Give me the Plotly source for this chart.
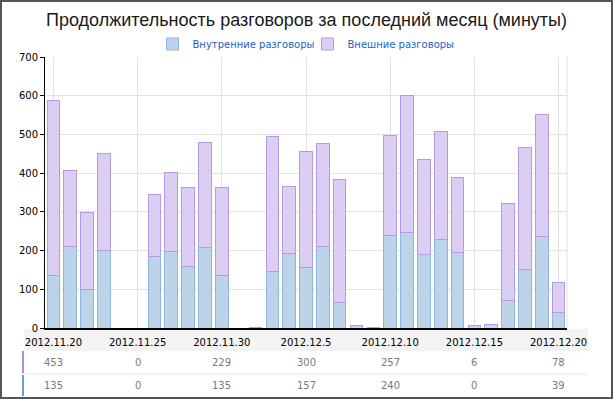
import plotly.graph_objects as go

# ---- data ----
dates = ["2012.11.20", "2012.11.21", "2012.11.22", "2012.11.23", "2012.11.24",
         "2012.11.25", "2012.11.26", "2012.11.27", "2012.11.28", "2012.11.29",
         "2012.11.30", "2012.12.1", "2012.12.2", "2012.12.3", "2012.12.4",
         "2012.12.5", "2012.12.6", "2012.12.7", "2012.12.8", "2012.12.9",
         "2012.12.10", "2012.12.11", "2012.12.12", "2012.12.13", "2012.12.14",
         "2012.12.15", "2012.12.16", "2012.12.17", "2012.12.18", "2012.12.19",
         "2012.12.20"]
internal = [135, 210, 100, 200, 0, 0, 184, 198, 158, 207, 135, 0, 0, 146, 193,
            157, 210, 66, 0, 0, 240, 247, 190, 229, 195, 0, 0, 71, 151, 237, 39]
external = [453, 197, 199, 251, 0, 0, 161, 204, 205, 272, 229, 0, 2, 349, 173,
            300, 267, 318, 7, 2, 257, 354, 245, 279, 194, 6, 9, 251, 315, 315, 78]
name_internal = "Внутренние разговоры"
name_external = "Внешние разговоры"
title_text = "Продолжительность разговоров за последний месяц (минуты)"
y_ticks = [0, 100, 200, 300, 400, 500, 600, 700]
label_idx = list(range(0, len(dates), 5))

FONT = "DejaVu Sans"
W, H = 613, 399
L, R, T, B = 45, 567, 57, 328  # plot area in pixels
pw, ph = R - L, B - T


def px_x(p):
    return (p - L) / pw


def px_y(p):
    return (B - p) / ph


def nz(vals):
    # zero-length bars are not drawn (no border stroke on the axis)
    return [v if v else None for v in vals]


fig = go.Figure()
fig.add_trace(go.Bar(
    x=dates, y=nz(internal), name=name_internal, legendwidth=110,
    marker=dict(color="#bdd3ea", line=dict(color="#8fb5dd", width=1)),
))
fig.add_trace(go.Bar(
    x=dates, y=nz(external), name=name_external,
    marker=dict(color="#dbcef2", line=dict(color="#b39be8", width=1)),
))

shapes = []
# label band
shapes.append(dict(type="rect", xref="paper", yref="paper",
                   x0=px_x(24), x1=px_x(588), y0=px_y(329), y1=px_y(351),
                   fillcolor="#f3f3f3", line=dict(width=0), layer="below"))
# row separator
shapes.append(dict(type="line", xref="paper", yref="paper",
                   x0=px_x(22), x1=px_x(588), y0=px_y(374), y1=px_y(374),
                   line=dict(color="#e6e6e6", width=1)))
# row markers
shapes.append(dict(type="line", xref="paper", yref="paper",
                   x0=px_x(23), x1=px_x(23), y0=px_y(351), y1=px_y(373),
                   line=dict(color="#a68ee2", width=2)))
shapes.append(dict(type="line", xref="paper", yref="paper",
                   x0=px_x(23), x1=px_x(23), y0=px_y(375), y1=px_y(396),
                   line=dict(color="#6d9cd2", width=2)))
# right edge of plot area
shapes.append(dict(type="line", xref="paper", yref="paper",
                   x0=1, x1=1, y0=0, y1=1,
                   line=dict(color="#e2e2e2", width=1), layer="below"))
# outer border
shapes.append(dict(type="rect", xref="paper", yref="paper",
                   x0=px_x(1), x1=px_x(612), y0=px_y(1), y1=px_y(398),
                   fillcolor="rgba(0,0,0,0)", line=dict(color="#555555", width=2)))

annotations = []
for i in label_idx:
    annotations.append(dict(x=dates[i], y=px_y(362.5), xref="x", yref="paper",
                            text=str(external[i]), showarrow=False,
                            font=dict(family=FONT, size=10, color="#7a7a7a"),
                            xanchor="center", yanchor="middle"))
    annotations.append(dict(x=dates[i], y=px_y(385.5), xref="x", yref="paper",
                            text=str(internal[i]), showarrow=False,
                            font=dict(family=FONT, size=10, color="#7a7a7a"),
                            xanchor="center", yanchor="middle"))

fig.update_layout(
    width=W, height=H,
    margin=dict(l=L, r=W - R, t=T, b=H - B, pad=0),
    paper_bgcolor="white", plot_bgcolor="white",
    barmode="stack", bargap=0.25,
    title=dict(text=title_text, x=0.5, xanchor="center",
               y=1 - 20 / H, yanchor="middle",
               font=dict(family="Liberation Sans", size=18, color="#1a1a1a")),
    legend=dict(orientation="h", x=0.5, xanchor="center",
                y=px_y(44), yanchor="middle", traceorder="normal",
                font=dict(family=FONT, size=10, color="#1f5fcc"),
                itemwidth=30, bgcolor="rgba(0,0,0,0)"),
    xaxis=dict(type="category", categoryorder="array", categoryarray=dates,
               range=[-0.5, len(dates) - 0.5],
               tickmode="array", tickvals=[dates[i] for i in label_idx],
               ticktext=[dates[i] for i in label_idx],
               showgrid=True, gridcolor="#e2e2e2", gridwidth=1,
               showline=True, linecolor="black", linewidth=2,
               ticks="", ticklabelstandoff=4,
               tickfont=dict(family=FONT, size=10, color="black"),
               fixedrange=True),
    yaxis=dict(range=[0, 700], tickmode="array", tickvals=y_ticks,
               showgrid=True, gridcolor="#e2e2e2", gridwidth=1,
               zeroline=False,
               showline=True, linecolor="black", linewidth=1,
               ticks="outside", ticklen=4, tickcolor="black",
               tickfont=dict(family=FONT, size=10, color="black"),
               fixedrange=True),
    shapes=shapes,
    annotations=annotations,
    showlegend=True,
)

fig.write_html("out.html",
               config={"displayModeBar": False},
               post_script="document.body.style.margin='0';document.body.style.overflow='hidden';")
